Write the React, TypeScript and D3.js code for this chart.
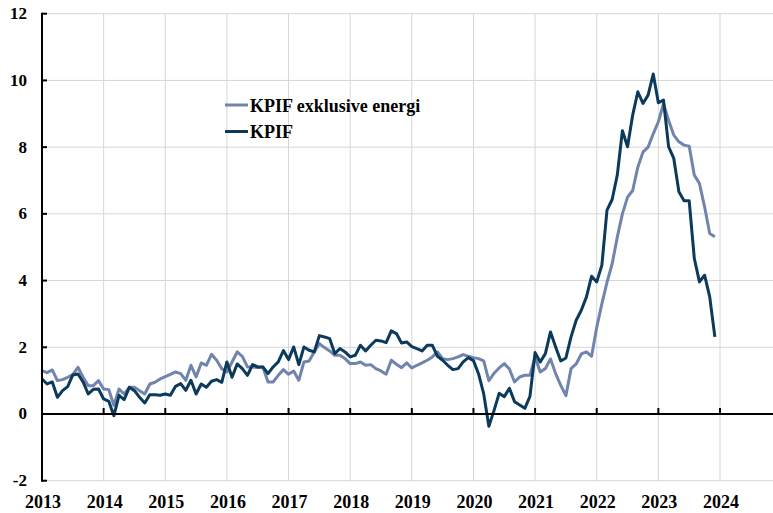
import React from "react";
import * as d3 from "d3";

// monthly, Jan 2013 - Dec 2023, annual % change
const kpif = [
  1.05, 0.9, 0.96, 0.5, 0.7, 0.82, 1.17, 1.2, 0.96, 0.6, 0.74, 0.75,
  0.45, 0.38, -0.05, 0.56, 0.43, 0.8, 0.7, 0.5, 0.33, 0.58, 0.58, 0.56,
  0.6, 0.56, 0.83, 0.91, 0.71, 1.01, 0.6, 0.9, 0.8, 0.98, 1.03, 0.95,
  1.56, 1.1, 1.5, 1.36, 1.16, 1.48, 1.41, 1.41, 1.21, 1.41, 1.56, 1.9,
  1.63, 2.01, 1.48, 2.01, 1.91, 1.86, 2.35, 2.31, 2.26, 1.81, 1.96, 1.86,
  1.71, 1.76, 2.06, 1.89, 2.06, 2.21, 2.19, 2.14, 2.49, 2.41, 2.13, 2.16,
  2.02, 1.96, 1.89, 2.06, 2.06, 1.73, 1.61, 1.46, 1.33, 1.36, 1.56, 1.69,
  1.6, 1.2, 0.6, -0.37, 0.1, 0.62, 0.52, 0.77, 0.37, 0.27, 0.17, 0.53,
  1.84, 1.56, 1.81, 2.46, 2.01, 1.59, 1.68, 2.31, 2.81, 3.11, 3.51, 4.13,
  3.96, 4.46, 6.11, 6.43, 7.16, 8.49, 8.01, 8.96, 9.66, 9.31, 9.56, 10.19,
  9.33, 9.41, 8.01, 7.66, 6.66, 6.39, 6.39, 4.66, 3.96, 4.16, 3.51, 2.31,
];

const kpifExEnergy = [
  1.3, 1.24, 1.32, 1.0, 1.03, 1.1, 1.18, 1.4, 1.1, 0.85, 0.85, 1.0,
  0.75, 0.73, 0.26, 0.75, 0.6, 0.8, 0.8, 0.7, 0.6, 0.9, 0.95, 1.05,
  1.12, 1.19, 1.26, 1.21, 1.01, 1.46, 1.11, 1.53, 1.46, 1.79, 1.61, 1.36,
  1.26, 1.56, 1.86, 1.73, 1.41, 1.41, 1.39, 1.41, 0.96, 0.96, 1.16, 1.33,
  1.19, 1.29, 1.01, 1.56, 1.59, 1.86, 2.11, 1.99, 1.89, 1.76, 1.76, 1.66,
  1.51, 1.51, 1.56, 1.46, 1.48, 1.36, 1.29, 1.19, 1.61, 1.49, 1.39, 1.53,
  1.38, 1.46, 1.53, 1.61, 1.71, 1.86, 1.66, 1.63, 1.66, 1.71, 1.78, 1.73,
  1.69, 1.66, 1.59, 1.0, 1.22, 1.38, 1.51, 1.35, 0.96, 1.11, 1.16, 1.16,
  1.71, 1.26, 1.36, 1.65, 1.21, 0.86, 0.55, 1.36, 1.5, 1.8, 1.86, 1.73,
  2.6, 3.3, 3.95, 4.5, 5.3, 6.0, 6.5, 6.7, 7.4, 7.85, 8.0, 8.4,
  8.76, 9.3, 8.8, 8.36, 8.16, 8.06, 8.03, 7.16, 6.91, 6.21, 5.41, 5.31,
];

const yTicks = [-2, 0, 2, 4, 6, 8, 10, 12];
const yearLabels = [2013, 2014, 2015, 2016, 2017, 2018, 2019, 2020, 2021, 2022, 2023, 2024];
const gridYears = [2014, 2015, 2016, 2017, 2018, 2019, 2020, 2021, 2022, 2023, 2024, 2025];

const series = [
  { name: "KPIF exklusive energi", values: kpifExEnergy, color: "#7084ad" },
  { name: "KPIF", values: kpif, color: "#0b3a5c" },
];

const W = 773;
const H = 513;
const font = "'Liberation Serif', 'Times New Roman', serif";

export default function App() {
  const x = d3.scaleLinear().domain([2013, 2024]).range([42, 720]);
  const y = d3.scaleLinear().domain([-2, 12]).range([480.7, 13.7]);

  const line = d3
    .line<number>()
    .x((_, i) => x(2013 + i / 12))
    .y((d) => y(d));

  return (
    <svg
      width={W}
      height={H}
      style={{ position: "absolute", left: 0, top: 0, background: "#fff" }}
      fontFamily={font}
      fontWeight="bold"
    >
      {/* grid */}
      {yTicks.map((t) => (
        <line key={"gy" + t} x1={42} x2={W} y1={y(t)} y2={y(t)} stroke="#d6d6d6" strokeWidth={1} />
      ))}
      {gridYears.map((yr) => (
        <line key={"gx" + yr} x1={x(yr)} x2={x(yr)} y1={y(12)} y2={y(-2)} stroke="#d6d6d6" strokeWidth={1} />
      ))}

      {/* series */}
      {series.map((s) => (
        <path
          key={s.name}
          d={line(s.values) ?? ""}
          fill="none"
          stroke={s.color}
          strokeWidth={3}
          strokeLinejoin="round"
        />
      ))}

      {/* zero axis */}
      <line x1={42} x2={W} y1={y(0)} y2={y(0)} stroke="#000" strokeWidth={2} />
      {yearLabels.slice(1).map((yr) => (
        <line key={"tx" + yr} x1={x(yr)} x2={x(yr)} y1={y(0)} y2={y(0) - 6} stroke="#000" strokeWidth={2} />
      ))}

      {/* y axis */}
      <line x1={42} x2={42} y1={y(12) - 1} y2={y(-2) + 1} stroke="#000" strokeWidth={2} />
      {yTicks.map((t) => (
        <line key={"ty" + t} x1={42} x2={47} y1={y(t)} y2={y(t)} stroke="#000" strokeWidth={2} />
      ))}
      {yTicks.map((t) => (
        <text key={"yl" + t} x={27} y={y(t) + 5.5} textAnchor="end" fontSize={17} fill="#000">
          {t}
        </text>
      ))}

      {/* x labels */}
      {yearLabels.map((yr) => (
        <text key={"xl" + yr} x={x(yr) + 1} y={508} textAnchor="middle" fontSize={18} fill="#000">
          {yr}
        </text>
      ))}

      {/* legend */}
      {series.map((s, i) => (
        <g key={"lg" + s.name} transform={`translate(225, ${105 + i * 26.5})`}>
          <line x1={0} x2={23} y1={0} y2={0} stroke={s.color} strokeWidth={3} />
          <text x={25} y={6.5} fontSize={18} fill="#000">
            {s.name}
          </text>
        </g>
      ))}
    </svg>
  );
}
